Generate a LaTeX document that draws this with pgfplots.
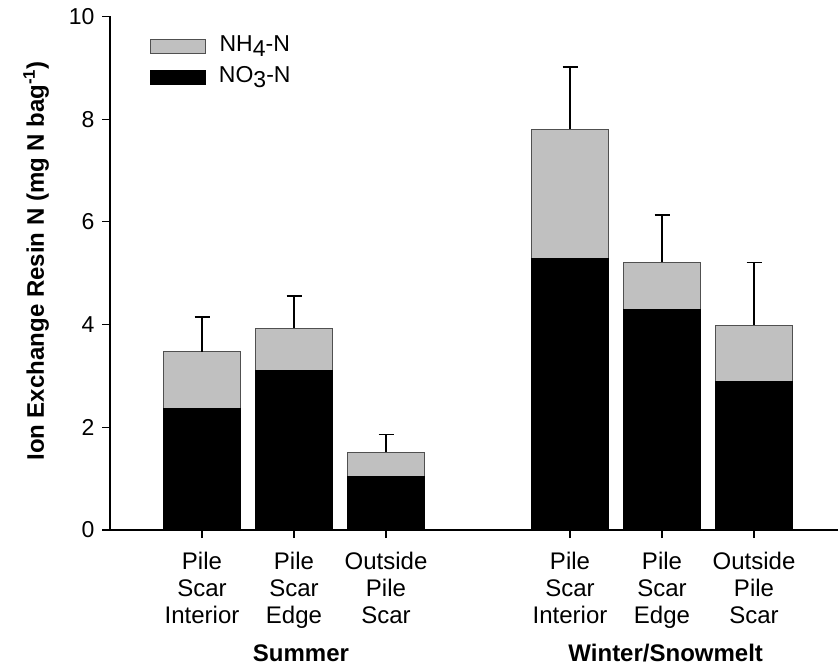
\documentclass[border=0pt]{standalone}
\usepackage{fontspec}
\setmainfont{Liberation Sans}
\usepackage{pgfplots}
\pgfplotsset{compat=1.18}
\definecolor{nhgray}{HTML}{C0C0C0}
\definecolor{edgegray}{HTML}{505050}
\begin{document}
\begin{tikzpicture}[x=1pt,y=1pt]
\path[use as bounding box] (0,0) rectangle (838,672);
\begin{axis}[
  at={(110pt,142pt)}, anchor=south west,
  scale only axis, width=728pt, height=513.5pt,
  xmin=0, xmax=7.913, ymin=0, ymax=10,
  axis x line*=bottom, axis y line*=left,
  axis line style={line width=1.5pt, black},
  ytick={0,2,4,6,8,10},
  xtick={1,2,3,5,6,7},
  xticklabels={{Pile\\Scar\\Interior},{Pile\\Scar\\Edge},{Outside\\Pile\\Scar},{Pile\\Scar\\Interior},{Pile\\Scar\\Edge},{Outside\\Pile\\Scar}},
  xticklabel style={align=center, font=\fontsize{24}{27}\selectfont, yshift=-11pt},
  yticklabel style={font=\fontsize{23}{26}\selectfont, xshift=-4pt},
  /pgf/number format/assume math mode=true,
  tick align=outside, major tick length=8pt,
  tick style={black, line width=1.2pt},
  ybar stacked, bar width=77pt,
  clip=false,
  ylabel={\textbf{Ion Exchange Resin N (mg N bag\textsuperscript{-1})}},
  ylabel style={font=\fontsize{24}{27}\selectfont, at={(axis description cs:-0.1016,0.524)}, anchor=center, rotate=0},
  legend style={draw=none, fill=none, at={(axis description cs:0,1)}, anchor=north west,
    xshift=40pt, yshift=-20pt, inner sep=0pt, row sep=11pt,
    nodes={font=\fontsize{23}{26}\selectfont, inner sep=0pt, text height=15pt, text depth=5pt},
    /tikz/every odd column/.append style={column sep=13pt}},
  legend image code/.code={\draw[#1, line width=0.8pt] (0pt,-7pt) rectangle (55pt,7pt);},
  reverse legend,
]
% NO3-N (bottom, black)
\addplot[fill=black, draw=black, line width=0.8pt] coordinates {
  (1,2.36) (2,3.10) (3,1.04) (5,5.29) (6,4.30) (7,2.89)};
% NH4-N (top, gray) with upward standard errors on the total
\addplot[fill=nhgray, draw=edgegray, line width=0.8pt,
  error bars/.cd, y dir=plus, y explicit,
  error bar style={line width=1.5pt, black},
  error mark options={black, line width=1.5pt, mark size=7.5pt, rotate=90}] coordinates {
  (1,1.11) +- (0,0.68)
  (2,0.83) +- (0,0.63)
  (3,0.47) +- (0,0.35)
  (5,2.51) +- (0,1.22)
  (6,0.91) +- (0,0.92)
  (7,1.10) +- (0,1.22)};
\legend{NO\raisebox{-5pt}{3}-N, NH\raisebox{-5pt}{4}-N}
\node[anchor=base, font=\bfseries\fontsize{24}{27}\selectfont] at (axis cs:2.076,-2.57) {Summer};
\node[anchor=base, font=\bfseries\fontsize{24}{27}\selectfont] at (axis cs:6.04,-2.57) {Winter/Snowmelt};
\end{axis}
\end{tikzpicture}
\end{document}
